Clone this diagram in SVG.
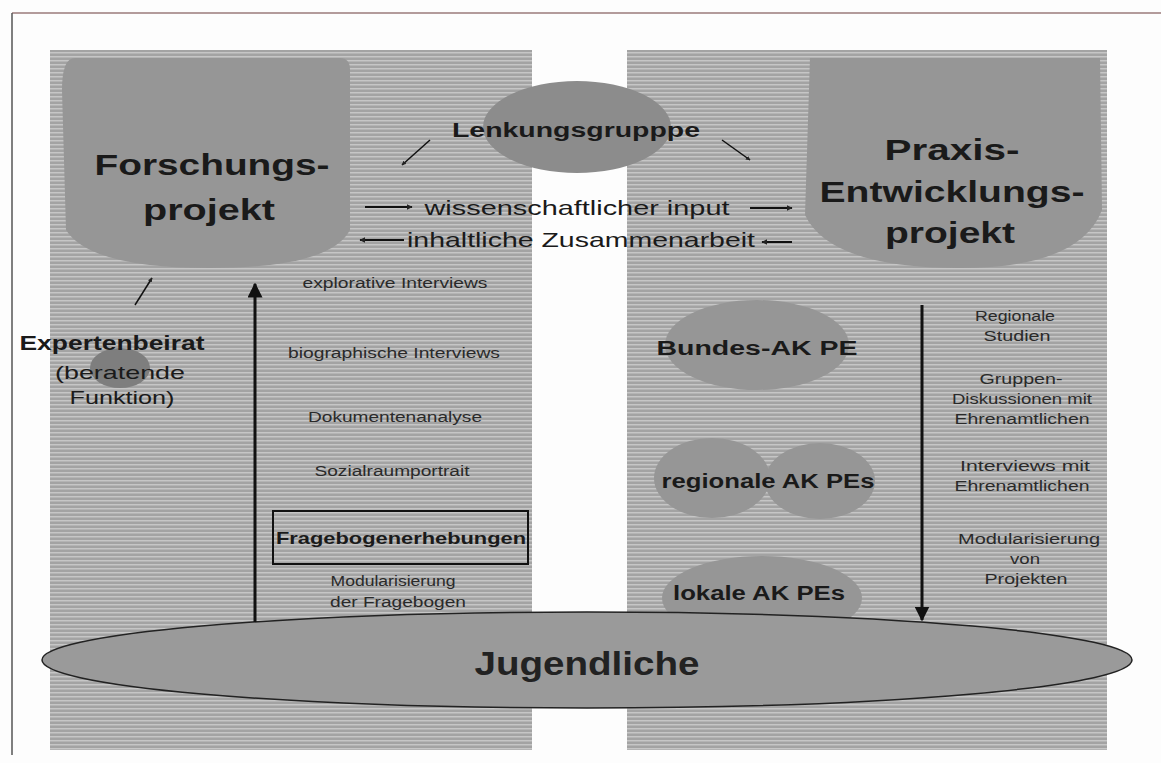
<svg xmlns="http://www.w3.org/2000/svg" width="1161" height="763" viewBox="0 0 1161 763">
<defs>
<pattern id="stripes" width="6" height="4" patternUnits="userSpaceOnUse">
<rect width="6" height="4" fill="#a3a3a3"/>
<rect y="0" width="6" height="1.5" fill="#c6c6c6"/>
</pattern>
<marker id="ah" viewBox="0 0 10 10" refX="9" refY="5" markerWidth="5" markerHeight="5" orient="auto-start-reverse">
<path d="M0,0 L10,5 L0,10 z" fill="#111"/>
</marker>
<marker id="ahs" viewBox="0 0 10 10" refX="9" refY="5" markerWidth="3" markerHeight="3" orient="auto-start-reverse">
<path d="M0,0 L10,5 L0,10 z" fill="#222"/>
</marker>
</defs>
<style>
text{font-family:"Liberation Sans",Arial,sans-serif;fill:#1a1a1a;text-anchor:middle}
.big{font-size:30px;font-weight:bold}
.mid{font-size:20px;font-weight:bold}
.sm{font-size:14px;fill:#2a2a2a}
.mid2{font-size:19px;fill:#1a1a1a}
.blob{fill:#969696}
.dark{fill:#8c8c8c}
.conn{stroke:#111;fill:none}
</style>
<rect width="1161" height="763" fill="#fdfdfd"/>
<g id="frame">
<line x1="12" y1="13" x2="1161" y2="13" stroke="#9a7a7a" stroke-width="1.5"/>
<line x1="12" y1="13" x2="12" y2="755" stroke="#555" stroke-width="1.5"/>
</g>
<g id="panel-left"><rect x="50" y="50" width="482" height="700" fill="url(#stripes)"/></g>
<g id="panel-right"><rect x="627" y="50" width="480" height="700" fill="url(#stripes)"/></g>

<g id="forschungsprojekt">
<path class="blob" d="M75,58 L340,58 Q350,58 350,70 L350,230 Q330,268 210,268 Q90,268 66,230 L62,90 Q62,58 75,58 z"/>
<text class="big" x="212" y="175" textLength="235" lengthAdjust="spacingAndGlyphs">Forschungs-</text>
<text class="big" x="209" y="220" textLength="132" lengthAdjust="spacingAndGlyphs">projekt</text>
</g>
<g id="praxisprojekt">
<path class="blob" d="M810,58 L1100,58 L1102,210 Q1080,268 960,268 Q830,268 805,215 z"/>
<text class="big" x="952" y="160" textLength="135" lengthAdjust="spacingAndGlyphs">Praxis-</text>
<text class="big" x="952" y="202" textLength="265" lengthAdjust="spacingAndGlyphs">Entwicklungs-</text>
<text class="big" x="950" y="243" textLength="130" lengthAdjust="spacingAndGlyphs">projekt</text>
</g>
<g id="lenkungsgruppe">
<ellipse class="dark" cx="577" cy="127" rx="94" ry="46"/>
<text class="mid" x="576" y="137" textLength="248" lengthAdjust="spacingAndGlyphs">Lenkungsgrupppe</text>
</g>
<g id="expertenbeirat">
<ellipse fill="#7e7e7e" cx="120" cy="368" rx="30" ry="20"/>
<text class="mid" x="112" y="350" textLength="185" lengthAdjust="spacingAndGlyphs">Expertenbeirat</text>
<text class="mid2" x="120" y="379" textLength="130" lengthAdjust="spacingAndGlyphs">(beratende</text>
<text class="mid2" x="122" y="404" textLength="105" lengthAdjust="spacingAndGlyphs">Funktion)</text>
</g>
<g id="methoden-links">
<text class="sm" x="395" y="288" textLength="185" lengthAdjust="spacingAndGlyphs">explorative Interviews</text>
<text class="sm" x="394" y="358" textLength="212" lengthAdjust="spacingAndGlyphs">biographische Interviews</text>
<text class="sm" x="395" y="422" textLength="174" lengthAdjust="spacingAndGlyphs">Dokumentenanalyse</text>
<text class="sm" x="392" y="476" textLength="155" lengthAdjust="spacingAndGlyphs">Sozialraumportrait</text>
<rect x="273" y="511" width="255" height="53" fill="none" stroke="#111" stroke-width="2"/>
<text x="401" y="544" textLength="250" lengthAdjust="spacingAndGlyphs" style="font-size:17px;font-weight:bold">Fragebogenerhebungen</text>
<text class="sm" x="393" y="586" textLength="125" lengthAdjust="spacingAndGlyphs">Modularisierung</text>
<text class="sm" x="398" y="607" textLength="136" lengthAdjust="spacingAndGlyphs">der Fragebogen</text>
</g>
<g id="bundes-ak">
<ellipse class="blob" cx="757" cy="345" rx="92" ry="45"/>
<text class="mid" x="757" y="355" textLength="201" lengthAdjust="spacingAndGlyphs">Bundes-AK PE</text>
</g>
<g id="regionale-ak">
<ellipse class="blob" cx="712" cy="478" rx="58" ry="40"/>
<ellipse class="blob" cx="820" cy="481" rx="55" ry="38"/>
<text class="mid" x="768" y="488" textLength="213" lengthAdjust="spacingAndGlyphs">regionale AK PEs</text>
</g>
<g id="lokale-ak">
<ellipse class="blob" cx="762" cy="598" rx="100" ry="42"/>
<text class="mid" x="759" y="600" textLength="172" lengthAdjust="spacingAndGlyphs">lokale AK PEs</text>
</g>
<g id="methoden-rechts">
<text class="sm" x="1015" y="321" textLength="80" lengthAdjust="spacingAndGlyphs">Regionale</text>
<text class="sm" x="1017" y="341" textLength="67" lengthAdjust="spacingAndGlyphs">Studien</text>
<text class="sm" x="1021" y="384" textLength="83" lengthAdjust="spacingAndGlyphs">Gruppen-</text>
<text class="sm" x="1022" y="404" textLength="140" lengthAdjust="spacingAndGlyphs">Diskussionen mit</text>
<text class="sm" x="1022" y="424" textLength="135" lengthAdjust="spacingAndGlyphs">Ehrenamtlichen</text>
<text class="sm" x="1025" y="471" textLength="130" lengthAdjust="spacingAndGlyphs">Interviews mit</text>
<text class="sm" x="1022" y="491" textLength="135" lengthAdjust="spacingAndGlyphs">Ehrenamtlichen</text>
<text class="sm" x="1029" y="544" textLength="142" lengthAdjust="spacingAndGlyphs">Modularisierung</text>
<text class="sm" x="1025" y="564" textLength="30" lengthAdjust="spacingAndGlyphs">von</text>
<text class="sm" x="1026" y="584" textLength="83" lengthAdjust="spacingAndGlyphs">Projekten</text>
</g>
<g id="jugendliche">
<ellipse fill="#9a9a9a" stroke="#222" stroke-width="1.5" cx="587" cy="660" rx="545" ry="48"/>
<text x="587" y="675" textLength="225" lengthAdjust="spacingAndGlyphs" style="font-size:33px;font-weight:bold;fill:#222">Jugendliche</text>
</g>
<g id="input-labels">
<text x="577" y="215" textLength="305" lengthAdjust="spacingAndGlyphs" style="font-size:21px;fill:#1a1a1a">wissenschaftlicher input</text>
<text x="581" y="247" textLength="348" lengthAdjust="spacingAndGlyphs" style="font-size:21px;fill:#1a1a1a">inhaltliche Zusammenarbeit</text>
</g>
<g id="connectors">
<line class="conn" x1="430" y1="140" x2="402" y2="165" stroke-width="1.5" marker-end="url(#ahs)"/>
<line class="conn" x1="722" y1="140" x2="750" y2="160" stroke-width="1.5" marker-end="url(#ahs)"/>
<line class="conn" x1="365" y1="207" x2="412" y2="207" stroke-width="2" marker-end="url(#ahs)"/>
<line class="conn" x1="750" y1="208" x2="792" y2="208" stroke-width="2" marker-end="url(#ahs)"/>
<line class="conn" x1="404" y1="240" x2="360" y2="240" stroke-width="2" marker-end="url(#ahs)"/>
<line class="conn" x1="792" y1="242" x2="762" y2="242" stroke-width="2" marker-end="url(#ahs)"/>
<line class="conn" x1="135" y1="305" x2="152" y2="278" stroke-width="1.5" marker-end="url(#ahs)"/>
<line class="conn" x1="255" y1="622" x2="255" y2="284" stroke-width="3" marker-end="url(#ah)"/>
<line class="conn" x1="922" y1="305" x2="922" y2="620" stroke-width="3" marker-end="url(#ah)"/>
</g>
</svg>
